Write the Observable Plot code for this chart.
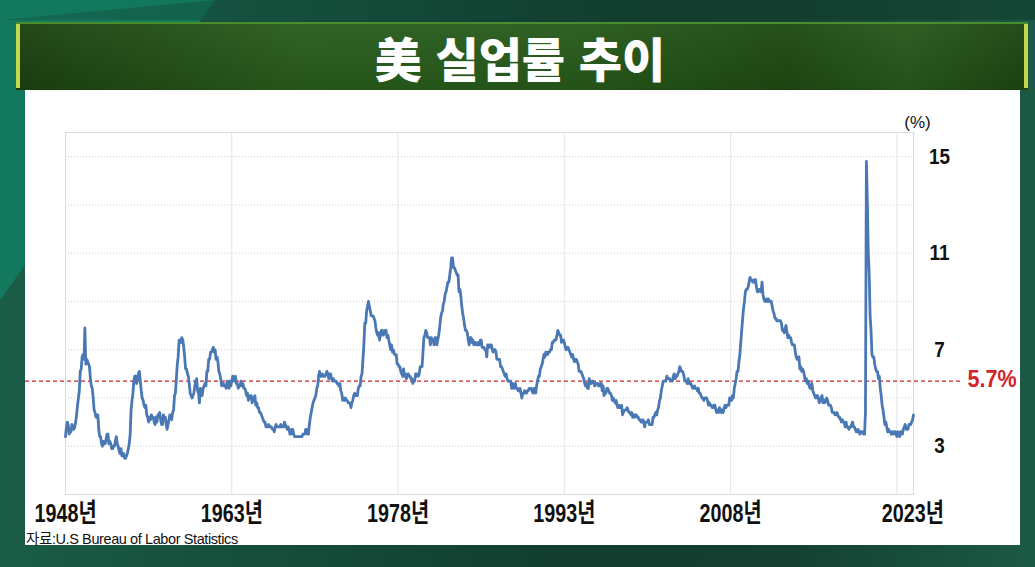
<!DOCTYPE html>
<html>
<head>
<meta charset="utf-8">
<script src="https://cdn.jsdelivr.net/npm/d3@7"></script>
<script src="https://cdn.jsdelivr.net/npm/@observablehq/plot@0.6"></script>
<style>
  html, body { margin: 0; padding: 0; }
  body {
    width: 1035px; height: 567px; position: relative; overflow: hidden;
    background: linear-gradient(90deg, #1a5d47 0%, #16503d 20%, #123d2f 55%, #143f31 75%, #1b5a44 100%);
    font-family: "Noto Sans CJK KR", sans-serif;
  }
  #teal {
    position: absolute; left: 0; top: 0; width: 1035px; height: 567px;
    background: linear-gradient(90deg, #12795d 0%, #117058 100%);
    clip-path: polygon(0 0, 215px 0, 0 300px);
  }
  #teal2 {
    position: absolute; left: 0; top: 0; width: 1035px; height: 567px;
    background: linear-gradient(90deg, #145e49 0%, #123f30 60%, #123a2c 100%);
    clip-path: polygon(215px 0, 1035px 0, 1035px 20px, 0 20px);
    opacity: 0.6;
  }
  #banner {
    position: absolute; left: 16px; top: 22px; width: 1012px; height: 68px;
    background:
      linear-gradient(180deg, rgba(255,255,255,0.04) 0%, rgba(0,0,0,0.08) 100%),
      linear-gradient(90deg, #1b4110 0%, #295c1c 28%, #275a1b 55%, #1d4912 76%, #27581b 88%, #1c4511 100%);
    border-top: 2px solid #4a8d2e;
    box-sizing: border-box;
  }
  .edge { position: absolute; top: 24px; width: 4px; height: 64px; background: #c2d94c; }
  #title {
    position: absolute; left: 0; top: 22px; width: 1040px; height: 68px;
    display: flex; align-items: center; justify-content: center;
    color: #ffffff; font-family: "Noto Sans CJK KR", sans-serif; font-weight: 900;
    font-size: 47px; word-spacing: 3px;
  }
  #panel {
    position: absolute; left: 25px; top: 90px; width: 995px; height: 455px; background: #ffffff;
  }
  #chart { position: absolute; left: 25px; top: 90px; }
  #caption {
    position: absolute; left: 26px; top: 527px; font-size: 14.5px; color: #111;
    font-family: "Liberation Sans", "Noto Sans CJK KR", sans-serif; letter-spacing: -0.4px;
  }
</style>
</head>
<body>
<div id="teal"></div>
<div id="teal2"></div>
<div id="banner"></div>
<div class="edge" style="left:16px"></div>
<div class="edge" style="left:1024px"></div>
<div id="title">美 실업률 추이</div>
<div id="panel"></div>
<div id="chart"></div>
<div id="caption">자료:U.S Bureau of Labor Statistics</div>
<script>
// Monthly US unemployment rate (%), January 1948 – July 2024
const startYear = 1948;
const monthlyRate = [
  3.4,3.8,4.0,3.9,3.5,3.6,3.6,3.9,3.8,3.7,3.8,4.0, // 1948
  4.3,4.7,5.0,5.3,6.1,6.2,6.7,6.8,6.6,7.9,6.4,6.6, // 1949
  6.5,6.4,6.3,5.8,5.5,5.4,5.0,4.5,4.4,4.2,4.2,4.3, // 1950
  3.7,3.4,3.4,3.1,3.0,3.2,3.1,3.1,3.3,3.5,3.5,3.1, // 1951
  3.2,3.1,2.9,2.9,3.0,3.0,3.2,3.4,3.1,3.0,2.8,2.7, // 1952
  2.9,2.6,2.6,2.7,2.5,2.5,2.6,2.7,2.9,3.1,3.5,4.5, // 1953
  4.9,5.2,5.7,5.9,5.9,5.6,5.8,6.0,6.1,5.7,5.3,5.0, // 1954
  4.9,4.7,4.6,4.7,4.3,4.2,4.0,4.2,4.1,4.3,4.2,4.2, // 1955
  4.0,3.9,4.2,4.0,4.3,4.3,4.4,4.1,3.9,3.9,4.3,4.2, // 1956
  4.2,3.9,3.7,3.9,4.1,4.3,4.2,4.1,4.4,4.5,5.1,5.2, // 1957
  5.8,6.4,6.7,7.4,7.4,7.3,7.5,7.4,7.1,6.7,6.2,6.2, // 1958
  6.0,5.9,5.6,5.2,5.1,5.0,5.1,5.2,5.5,5.7,5.8,5.3, // 1959
  5.2,4.8,5.4,5.2,5.1,5.4,5.5,5.6,5.5,6.1,6.1,6.6, // 1960
  6.6,6.9,6.9,7.0,7.1,6.9,7.0,6.6,6.7,6.5,6.1,6.0, // 1961
  5.8,5.5,5.6,5.6,5.5,5.5,5.4,5.7,5.6,5.4,5.7,5.5, // 1962
  5.7,5.9,5.7,5.7,5.9,5.6,5.6,5.4,5.5,5.5,5.7,5.5, // 1963
  5.6,5.4,5.4,5.3,5.1,5.2,4.9,5.0,5.1,5.1,4.8,5.0, // 1964
  4.9,5.1,4.7,4.8,4.6,4.6,4.4,4.4,4.3,4.2,4.1,4.0, // 1965
  4.0,3.8,3.8,3.8,3.9,3.8,3.8,3.8,3.7,3.7,3.6,3.8, // 1966
  3.9,3.8,3.8,3.8,3.8,3.9,3.8,3.8,3.8,4.0,3.9,3.8, // 1967
  3.7,3.8,3.7,3.5,3.5,3.7,3.7,3.5,3.4,3.4,3.4,3.4, // 1968
  3.4,3.4,3.4,3.4,3.4,3.5,3.5,3.5,3.7,3.7,3.5,3.5, // 1969
  3.9,4.2,4.4,4.6,4.8,4.9,5.0,5.1,5.4,5.5,5.9,6.1, // 1970
  5.9,5.9,6.0,5.9,5.9,5.9,6.0,6.1,6.0,5.8,6.0,6.0, // 1971
  5.8,5.7,5.8,5.7,5.7,5.7,5.6,5.6,5.5,5.6,5.3,5.2, // 1972
  4.9,5.0,4.9,5.0,4.9,4.9,4.8,4.8,4.8,4.6,4.8,4.9, // 1973
  5.1,5.2,5.1,5.1,5.1,5.4,5.5,5.5,5.9,6.0,6.6,7.2, // 1974
  8.1,8.1,8.6,8.8,9.0,8.8,8.6,8.4,8.4,8.4,8.3,8.2, // 1975
  7.9,7.7,7.6,7.7,7.4,7.6,7.8,7.8,7.6,7.7,7.8,7.8, // 1976
  7.5,7.6,7.4,7.2,7.0,7.2,6.9,7.0,6.8,6.8,6.8,6.4, // 1977
  6.4,6.3,6.3,6.1,6.0,5.9,6.2,5.9,6.0,5.8,5.9,6.0, // 1978
  5.9,5.9,5.8,5.8,5.6,5.7,5.7,6.0,5.9,6.0,5.9,6.0, // 1979
  6.3,6.3,6.3,6.9,7.5,7.6,7.8,7.7,7.5,7.5,7.5,7.2, // 1980
  7.5,7.4,7.4,7.2,7.5,7.5,7.2,7.4,7.6,7.9,8.3,8.5, // 1981
  8.6,8.9,9.0,9.3,9.4,9.6,9.8,9.8,10.1,10.4,10.8,10.8, // 1982
  10.4,10.4,10.3,10.2,10.1,10.1,9.4,9.5,9.2,8.8,8.5,8.3, // 1983
  8.0,7.8,7.8,7.7,7.4,7.2,7.5,7.5,7.3,7.4,7.2,7.3, // 1984
  7.3,7.2,7.2,7.3,7.2,7.4,7.4,7.1,7.1,7.1,7.0,7.0, // 1985
  6.7,7.2,7.2,7.1,7.2,7.2,7.0,6.9,7.0,7.0,6.9,6.6, // 1986
  6.6,6.6,6.6,6.3,6.3,6.2,6.1,6.0,5.9,6.0,5.8,5.7, // 1987
  5.7,5.7,5.7,5.4,5.6,5.4,5.4,5.6,5.4,5.4,5.3,5.3, // 1988
  5.4,5.2,5.0,5.2,5.2,5.3,5.2,5.2,5.3,5.3,5.4,5.4, // 1989
  5.4,5.3,5.2,5.4,5.4,5.2,5.5,5.7,5.9,5.9,6.2,6.3, // 1990
  6.4,6.6,6.8,6.7,6.9,6.9,6.8,6.9,6.9,7.0,7.0,7.3, // 1991
  7.3,7.4,7.4,7.4,7.6,7.8,7.7,7.6,7.6,7.3,7.4,7.4, // 1992
  7.3,7.1,7.0,7.1,7.1,7.0,6.9,6.8,6.7,6.8,6.6,6.5, // 1993
  6.6,6.6,6.5,6.4,6.1,6.1,6.1,6.0,5.9,5.8,5.6,5.5, // 1994
  5.6,5.4,5.4,5.8,5.6,5.6,5.7,5.7,5.6,5.5,5.6,5.6, // 1995
  5.6,5.5,5.5,5.6,5.6,5.3,5.5,5.1,5.2,5.2,5.4,5.4, // 1996
  5.3,5.2,5.2,5.1,4.9,5.0,4.9,4.8,4.9,4.7,4.6,4.7, // 1997
  4.6,4.6,4.7,4.3,4.4,4.5,4.5,4.5,4.6,4.5,4.4,4.4, // 1998
  4.3,4.4,4.2,4.3,4.2,4.3,4.3,4.2,4.2,4.1,4.1,4.0, // 1999
  4.0,4.1,4.0,3.8,4.0,4.0,4.0,4.1,3.9,3.9,3.9,3.9, // 2000
  4.2,4.2,4.3,4.4,4.3,4.5,4.6,4.9,5.0,5.3,5.5,5.7, // 2001
  5.7,5.7,5.7,5.9,5.8,5.8,5.8,5.7,5.7,5.7,5.9,6.0, // 2002
  5.8,5.9,5.9,6.0,6.1,6.3,6.2,6.1,6.1,6.0,5.8,5.7, // 2003
  5.7,5.6,5.8,5.6,5.6,5.6,5.5,5.4,5.4,5.5,5.4,5.4, // 2004
  5.3,5.4,5.2,5.2,5.1,5.0,5.0,4.9,5.0,5.0,5.0,4.9, // 2005
  4.7,4.8,4.7,4.7,4.6,4.6,4.7,4.7,4.5,4.4,4.5,4.4, // 2006
  4.6,4.5,4.4,4.5,4.4,4.6,4.7,4.6,4.7,4.7,4.7,5.0, // 2007
  5.0,4.9,5.1,5.0,5.4,5.6,5.8,6.1,6.1,6.5,6.8,7.3, // 2008
  7.8,8.3,8.7,9.0,9.4,9.5,9.5,9.6,9.8,10.0,9.9,9.9, // 2009
  9.8,9.8,9.9,9.9,9.6,9.4,9.4,9.5,9.5,9.4,9.8,9.3, // 2010
  9.1,9.0,9.0,9.1,9.0,9.1,9.0,9.0,9.0,8.8,8.6,8.5, // 2011
  8.3,8.3,8.2,8.2,8.2,8.2,8.2,8.1,7.8,7.8,7.7,7.9, // 2012
  8.0,7.7,7.5,7.6,7.5,7.5,7.3,7.2,7.2,7.2,6.9,6.7, // 2013
  6.6,6.7,6.7,6.2,6.3,6.1,6.2,6.1,5.9,5.7,5.8,5.6, // 2014
  5.7,5.5,5.4,5.4,5.6,5.3,5.2,5.1,5.0,5.0,5.1,5.0, // 2015
  4.8,4.9,5.0,5.1,4.8,4.9,4.8,4.9,5.0,4.9,4.7,4.7, // 2016
  4.7,4.6,4.4,4.4,4.4,4.3,4.3,4.4,4.3,4.2,4.2,4.1, // 2017
  4.0,4.1,4.0,4.0,3.8,4.0,3.8,3.8,3.7,3.8,3.8,3.9, // 2018
  4.0,3.8,3.8,3.7,3.6,3.6,3.7,3.6,3.5,3.6,3.6,3.6, // 2019
  3.5,3.5,4.4,14.8,13.2,11.0,10.2,8.4,7.8,6.8,6.7,6.7, // 2020
  6.4,6.2,6.1,6.1,5.8,5.9,5.4,5.1,4.7,4.5,4.2,3.9, // 2021
  4.0,3.8,3.6,3.7,3.6,3.6,3.5,3.6,3.5,3.6,3.6,3.5, // 2022
  3.4,3.6,3.5,3.4,3.6,3.6,3.5,3.7,3.8,3.9,3.7,3.7, // 2023
  3.7,3.9,3.9,3.9,4.0,4.1,4.3                      // 2024
];
const tickYears = [1948, 1963, 1978, 1993, 2008, 2023];
const tickLabels = ["1948년", "1963년", "1978년", "1993년", "2008년", "2023년"];
const yLabelValues = [3, 7, 11, 15];
const yGridValues = [3, 5, 7, 9, 11, 13, 15];
const averageRate = 5.7;
const unitLabel = "(%)";

const rows = monthlyRate.map((v, i) => ({ date: new Date(Date.UTC(startYear, i, 1)), value: v }));
const tickRows = tickYears.map((y, i) => ({ date: new Date(Date.UTC(y, 0, 1)), label: tickLabels[i] }));
const lastDate = rows[rows.length - 1].date;

const sans = "'Liberation Sans', Arial, 'Noto Sans CJK KR', sans-serif";
const red = "#d2232a";

const chart = Plot.plot({
  width: 995,
  height: 455,
  marginLeft: 40,
  marginRight: 107,
  marginTop: 42,
  marginBottom: 51,
  style: { background: "transparent", overflow: "visible" },
  x: { type: "utc", domain: [rows[0].date, lastDate], axis: null },
  y: { domain: [1, 16], axis: null },
  marks: [
    Plot.ruleY(yGridValues, { stroke: "#cfcfcf", strokeDasharray: "1,2", strokeWidth: 1 }),
    Plot.ruleX(tickRows, { x: "date", stroke: "#e4e4e4", strokeWidth: 1 }),
    Plot.frame({ stroke: "#dadada", strokeWidth: 1 }),
    Plot.ruleY([averageRate], { stroke: red, strokeWidth: 1.2, strokeDasharray: "4,3", insetLeft: -40, insetRight: -47 }),
    Plot.line(rows, { x: "date", y: "value", stroke: "#4a78b4", strokeWidth: 2.8, strokeLinejoin: "round" }),
    Plot.text(tickRows.slice(0, -1), {
      x: "date", text: "label", frameAnchor: "bottom", dy: 19, lineAnchor: "middle",
      fontFamily: sans, fontSize: 26, fontWeight: "bold", fill: "#111"
    }),
    Plot.text(tickRows.slice(-1), {
      x: "date", text: "label", frameAnchor: "bottom", dy: 19, dx: 16, lineAnchor: "middle",
      fontFamily: sans, fontSize: 26, fontWeight: "bold", fill: "#111"
    }),
    Plot.text(yLabelValues, {
      y: d => d, text: d => String(d), frameAnchor: "right", dx: 26, textAnchor: "middle",
      fontFamily: sans, fontSize: 22.5, fontWeight: "bold", fill: "#111"
    }),
    Plot.text([unitLabel], {
      text: d => d, frameAnchor: "top-right", dx: 4, dy: -17, textAnchor: "middle",
      fontFamily: sans, fontSize: 17, fill: "#111"
    }),
    Plot.text([averageRate], {
      y: d => d, text: d => `${d}%`, frameAnchor: "right", dx: 54, dy: -2, textAnchor: "start",
      fontFamily: sans, fontSize: 24, fontWeight: "bold", fill: red
    })
  ]
});

// condensed lettering, as in the reference's narrow gothic face (text marks in order)
const condense = [0.76, 0.76, 0.84, 1, 0.9];
const textGroups = chart.querySelectorAll('g[aria-label="text"]');
textGroups.forEach((g, k) => {
  const s = condense[k] ?? 1;
  g.querySelectorAll("text").forEach(t => {
    const tr = t.getAttribute("transform") || "";
    t.setAttribute("transform", `${tr} scale(${s},1)`);
  });
});
document.getElementById("chart").appendChild(chart);
</script>
</body>
</html>
